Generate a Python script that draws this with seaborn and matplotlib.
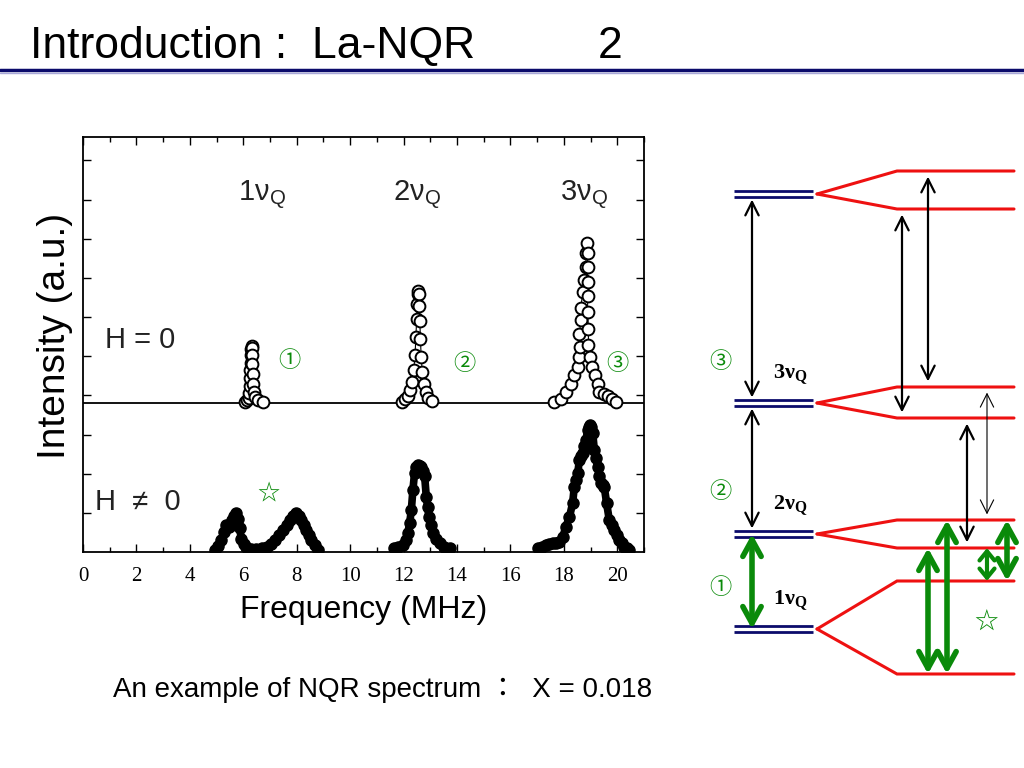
import numpy as np
import pandas as pd
import matplotlib
matplotlib.use('Agg')
import matplotlib.pyplot as plt
import seaborn as sns
from matplotlib.ticker import MultipleLocator

# ---------------- NQR spectrum, H = 0 (intensity above its own baseline) ----------------
f_1q_h0 = [6.08, 6.15, 6.20, 6.23, 6.25, 6.26, 6.27, 6.28, 6.29, 6.30, 6.31, 6.32,
           6.33, 6.34, 6.35, 6.37, 6.40, 6.45, 6.55, 6.72]
i_1q_h0 = [0.00, 0.03, 0.10, 0.22, 0.40, 0.60, 0.80, 1.00, 1.20, 1.35, 1.43, 1.38,
           1.20, 0.95, 0.70, 0.45, 0.25, 0.12, 0.05, 0.00]

f_2q_h0 = [11.95, 12.05, 12.15, 12.25, 12.32, 12.38, 12.43, 12.46, 12.49, 12.51, 12.53,
           12.55, 12.57, 12.59, 12.61, 12.63, 12.66, 12.70, 12.76, 12.84, 12.93, 13.05]
i_2q_h0 = [0.00, 0.06, 0.15, 0.30, 0.50, 0.80, 1.20, 1.65, 2.10, 2.50, 2.75,
           2.83, 2.75, 2.45, 2.05, 1.60, 1.15, 0.75, 0.45, 0.25, 0.10, 0.02]

f_3q_h0 = [17.64, 17.89, 18.08, 18.27, 18.39, 18.52, 18.58, 18.60, 18.58, 18.64, 18.64,
           18.70, 18.77, 18.83, 18.83, 18.85, 18.89, 18.89, 18.89, 18.89, 18.89, 18.92,
           18.92, 18.98, 19.05, 19.18, 19.26, 19.33, 19.51, 19.64, 19.82, 19.95]
i_3q_h0 = [0.00, 0.08, 0.25, 0.46, 0.68, 0.89, 1.15, 1.40, 1.74, 2.08, 2.38,
           2.81, 3.11, 3.45, 3.79, 4.05, 3.79, 3.45, 3.05, 2.70, 2.30, 1.85,
           1.45, 1.15, 0.89, 0.68, 0.46, 0.25, 0.20, 0.15, 0.08, 0.00]

# ---------------- NQR spectrum, H != 0 ----------------
f_1q_h = [4.93, 5.05, 5.18, 5.28, 5.37, 5.45, 5.52, 5.58, 5.65, 5.74, 5.80, 5.86,
          5.93, 6.02, 6.12, 6.30, 6.49, 6.70, 6.87, 7.02, 7.18, 7.33, 7.49, 7.62,
          7.74, 7.87, 7.99, 8.08, 8.17, 8.27, 8.36, 8.45, 8.55, 8.67, 8.80]
i_1q_h = [0.05, 0.15, 0.31, 0.50, 0.70, 0.64, 0.66, 0.82, 0.93, 0.99, 0.85, 0.62,
          0.33, 0.20, 0.12, 0.08, 0.07, 0.09, 0.14, 0.21, 0.31, 0.43, 0.56, 0.70,
          0.82, 0.93, 1.00, 0.92, 0.82, 0.69, 0.56, 0.43, 0.31, 0.17, 0.05]

f_2q_h = [11.66, 11.80, 11.97, 12.08, 12.16, 12.23, 12.29, 12.35, 12.41, 12.47, 12.54,
          12.60, 12.66, 12.72, 12.79, 12.85, 12.90, 12.95, 13.02, 13.10, 13.22, 13.35,
          13.52, 13.72]
i_2q_h = [0.09, 0.12, 0.18, 0.30, 0.48, 0.75, 1.07, 1.59, 2.01, 2.18, 2.22,
          2.20, 2.18, 2.08, 1.93, 1.41, 1.15, 0.90, 0.68, 0.48, 0.33, 0.22,
          0.14, 0.09]

f_3q_h = [17.02, 17.18, 17.33, 17.45, 17.58, 17.70, 17.83, 17.96, 18.08, 18.21, 18.33,
          18.39, 18.46, 18.52, 18.58, 18.64, 18.70, 18.77, 18.83, 18.89, 18.94, 18.98,
          19.03, 19.08, 19.14, 19.20, 19.26, 19.33, 19.39, 19.45, 19.51, 19.60, 19.70,
          19.80, 19.89, 19.98, 20.07, 20.16, 20.26, 20.35, 20.45]
i_3q_h = [0.09, 0.14, 0.18, 0.20, 0.22, 0.24, 0.26, 0.39, 0.65, 0.90, 1.25,
          1.67, 1.85, 2.01, 2.35, 2.45, 2.52, 2.70, 2.86, 3.12, 3.20, 3.25,
          3.20, 3.04, 2.61, 2.40, 2.18, 1.95, 1.76, 1.70, 1.67, 1.25, 0.82,
          0.70, 0.56, 0.43, 0.31, 0.22, 0.14, 0.09, 0.05]

peak_names = ['1vQ', '2vQ', '3vQ']
freq_ticks = [0, 2, 4, 6, 8, 10, 12, 14, 16, 18, 20]

# ---------------- energy level diagram (arbitrary energy units) ----------------
zero_field_E = [506, 297, 166, 71]
split_upper_E = [529, 313, 180, 119]
split_lower_E = [491, 282, 152, 26]
circled = ['③', '②', '①']
nu_labels = ['3', '2', '1']

# transitions: (from E, to E, kind)
trans_from = [506, 297, 166, 491, 529, 313, 282, 152, 180, 152, 180]
trans_to = [297, 166, 71, 282, 313, 180, 152, 26, 26, 119, 119]
trans_kind = ['b', 'b', 'g', 'b', 'b', 't', 'b', 'g', 'g', 's', 'g']
trans_col = [752, 752, 752, 902, 928, 987, 967, 928, 947, 987, 1007]

# ---------------- style ----------------
sns.set_theme(style='ticks')
plt.rcParams['font.family'] = ['Liberation Sans', 'Noto Sans CJK JP', 'DejaVu Sans']
plt.rcParams['text.color'] = 'black'
plt.rcParams['axes.labelcolor'] = 'black'
plt.rcParams['xtick.color'] = 'black'
plt.rcParams['ytick.color'] = 'black'
green = '#0a8a0a'
navy = '#0b0b6b'

fig = plt.figure(figsize=(10.24, 7.68), dpi=100)
fig.patch.set_facecolor('white')

# title
fig.text(30 / 1024, 1 - 58 / 768, 'Introduction :  La-NQR', fontsize=32, va='baseline')
fig.text(598 / 1024, 1 - 58 / 768, '2', fontsize=32, va='baseline')
fig.add_artist(plt.Line2D([0, 1], [1 - 70 / 768] * 2, transform=fig.transFigure,
                          color=navy, lw=2.5))
fig.add_artist(plt.Line2D([0, 1], [1 - 73 / 768] * 2, transform=fig.transFigure,
                          color='#a8a8d8', lw=1))

# ---------------- spectrum ----------------
ax = fig.add_axes([83 / 1024, 1 - 552 / 768, (644 - 83) / 1024, (552 - 137) / 768])
h0_offset = 3.84
divider = 3.81

h0 = pd.concat([pd.DataFrame({'f': f, 'i': i, 'peak': p}) for f, i, p in
                zip([f_1q_h0, f_2q_h0, f_3q_h0], [i_1q_h0, i_2q_h0, i_3q_h0], peak_names)])
h0['y'] = h0['i'] + h0_offset
hf = pd.concat([pd.DataFrame({'f': f, 'i': i, 'peak': p}) for f, i, p in
                zip([f_1q_h, f_2q_h, f_3q_h], [i_1q_h, i_2q_h, i_3q_h], peak_names)])

ax.axhline(divider, color='black', lw=1.3, zorder=1)
sns.lineplot(data=hf, x='f', y='i', units='peak', estimator=None, sort=False,
             color='black', lw=5.5, marker='o', markersize=8,
             markeredgecolor='black', markeredgewidth=1, ax=ax)
sns.lineplot(data=h0, x='f', y='y', units='peak', estimator=None, sort=False,
             color='black', lw=0.8, marker='o', markersize=8.5,
             markerfacecolor='white', markeredgecolor='black', markeredgewidth=1.4, ax=ax)

ax.set_xlim(0, 21)
ax.set_ylim(0, 10.6)
ax.set_xticks(freq_ticks)
ax.set_xticklabels([str(t) for t in freq_ticks], family='Liberation Serif', fontsize=15)
ax.xaxis.set_minor_locator(MultipleLocator(1))
ax.set_yticks(range(1, 11))
ax.set_yticklabels([])
ax.tick_params(which='both', direction='in', top=True, right=True, width=1, color='black')
ax.tick_params(which='major', length=6, pad=11)
ax.tick_params(which='minor', length=3.5)
for s in ax.spines.values():
    s.set_linewidth(1.3)
    s.set_color('black')
ax.set_xlabel('Frequency (MHz)', fontsize=23, labelpad=6)
ax.set_ylabel('Intensity (a.u.)', fontsize=28)
ax.yaxis.set_label_coords(-0.018, 0.52)

for x, lab in zip([6.69, 12.49, 18.77], ['1', '2', '3']):
    ax.text(x, 8.95, lab + 'ν$_\\mathregular{Q}$', fontsize=21, ha='center', va='baseline',
            color='#222222')
ax.text(0.82, 5.22, 'H = 0', fontsize=21, va='baseline', color='#222222')
ax.text(0.45, 1.07, 'H  ≠  0', fontsize=21, va='baseline', color='#222222')
for x, y, c in zip([7.74, 14.28, 20.0], [4.88, 4.81, 4.81], ['①', '②', '③']):
    ax.text(x, y, c, fontsize=16, color=green, ha='center', va='center',
            family=['Noto Sans CJK JP', 'DejaVu Sans'])
ax.text(6.92, 1.51, '☆', fontsize=16, color=green, ha='center', va='center',
        family=['Noto Sans CJK JP', 'DejaVu Sans'])

fig.text(383 / 1024, 1 - 690 / 768, 'An example of NQR spectrum ：  X = 0.018',
         fontsize=20, ha='center', va='center')

# ---------------- energy level diagram ----------------
ax2 = fig.add_axes([700 / 1024, 1 - 700 / 768, 324 / 1024, 550 / 768])
ax2.set_xlim(700, 1024)
ax2.set_ylim(0, 550)
ax2.axis('off')

ax2.hlines([e + 2.8 for e in zero_field_E] + [e - 2.8 for e in zero_field_E],
           734, 813, color=navy, lw=2)
for e0, eu, el in zip(zero_field_E, split_upper_E, split_lower_E):
    ax2.plot([817, 897, 1014], [e0, eu, eu], color='#ee1111', lw=2.2, solid_joinstyle='miter')
    ax2.plot([817, 897, 1014], [e0, el, el], color='#ee1111', lw=2.2, solid_joinstyle='miter')

styles = {
    'b': dict(arrowstyle='<->,head_length=0.8,head_width=0.4', lw=1.6, color='black'),
    't': dict(arrowstyle='<->,head_length=0.8,head_width=0.4', lw=0.8, color='black'),
    'g': dict(arrowstyle='<->,head_length=1.0,head_width=0.55', lw=4, color=green),
    's': dict(arrowstyle='<->,head_length=0.55,head_width=0.45', lw=3, color=green),
}
for e_a, e_b, k, x in zip(trans_from, trans_to, trans_kind, trans_col):
    props = dict(styles[k])
    gap = 0 if k in ('g', 's') else 4
    props.update(shrinkA=gap, shrinkB=gap)
    ax2.annotate('', xy=(x, e_b), xytext=(x, e_a), arrowprops=props)

for e_hi, c, n in zip(zero_field_E[1:], circled, nu_labels):
    ax2.text(720, e_hi + 42, c, fontsize=16, color=green, ha='center', va='center',
             family=['Noto Sans CJK JP', 'DejaVu Sans'])
    ax2.text(773, e_hi + 28, n + 'ν$_\\mathregular{Q}$', fontsize=16, ha='left', va='center',
             family=['Liberation Serif'], weight='bold')
ax2.text(986, 78, '☆', fontsize=17, color=green, ha='center', va='center',
         family=['Noto Sans CJK JP', 'DejaVu Sans'])

fig.savefig('out.png', dpi=100)
